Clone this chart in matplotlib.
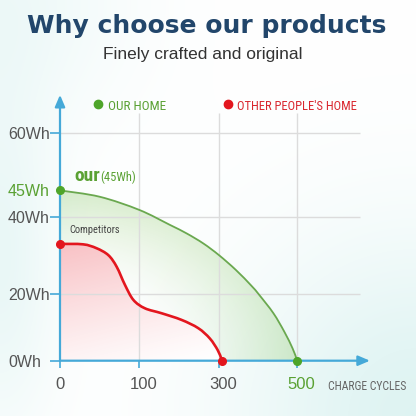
import numpy as np
import matplotlib
matplotlib.use('Agg')
import matplotlib.pyplot as plt
import matplotlib.transforms as mtransforms
from matplotlib.lines import Line2D
from matplotlib.path import Path
from matplotlib.patches import PathPatch

# ---- data ----
cycle_ticks = [0, 100, 300, 500]
cycle_labels = ['0', '100', '300', '500']
wh_ticks = [0, 20, 40, 45, 60]
wh_labels = ['0Wh', '20Wh', '40Wh', '45Wh', '60Wh']

our_cycles = [0, 50, 100, 177, 219, 261, 300, 343, 382, 403, 439, 467, 488, 498, 500]
our_wh = [45, 43.8, 41.3, 37.9, 35.7, 33.1, 30.1, 26.3, 22.3, 19.8, 14.3, 8.7, 3.7, 0.6, 0]

comp_cycles = [0, 29, 46, 61, 71.5, 82, 92.6, 114, 156, 206, 248, 277, 296.7, 306, 307.7]
comp_wh = [33.0, 32.9, 31.9, 30.1, 27.1, 22.4, 18.3, 15.8, 14.3, 12.3, 9.8, 6.7, 3.2, 0.6, 0]

# ---- colours ----
BLUE = '#45a9d8'
GREEN = '#5aa133'
GREEN_LINE = '#6aa84f'
RED = '#e3161e'
GREY = '#555555'
NAVY = '#22466b'
NARROW = ['Roboto Condensed', 'Liberation Sans Narrow', 'DejaVu Sans Condensed', 'Liberation Sans']


# piecewise linear scales (the picture's axes are not evenly spaced)
def piecewise(kv, kp):
    kv = np.asarray(kv, float)
    kp = np.asarray(kp, float)
    s0 = (kp[1] - kp[0]) / (kv[1] - kv[0])
    s1 = (kp[-1] - kp[-2]) / (kv[-1] - kv[-2])

    def f(v):
        v = np.asarray(v, float)
        out = np.interp(v, kv, kp)
        out = np.where(v < kv[0], kp[0] + (v - kv[0]) * s0, out)
        out = np.where(v > kv[-1], kp[-1] + (v - kv[-1]) * s1, out)
        return out
    return f


x_pos = [0, 79.3, 159, 237.3]
y_pos = [0, 66.4, 144, 170.4, 227.7]
x_fwd, x_inv = piecewise(cycle_ticks, x_pos), piecewise(x_pos, cycle_ticks)
y_fwd, y_inv = piecewise(wh_ticks, y_pos), piecewise(y_pos, wh_ticks)


def smooth_path(xs, ys, close=False):
    # catmull-rom through the read points, as bezier segments (in scale space)
    p = np.column_stack([x_fwd(xs), y_fwd(ys)])
    q = np.vstack([p[0], p, p[-1]])
    verts = [p[0]]
    codes = [Path.MOVETO]
    for i in range(1, len(q) - 2):
        c1 = q[i] + (q[i + 1] - q[i - 1]) / 6
        c2 = q[i + 1] - (q[i + 2] - q[i]) / 6
        verts += [c1, c2, q[i + 1]]
        codes += [Path.CURVE4] * 3
    if close:
        verts += [[0, 0], p[0]]
        codes += [Path.LINETO, Path.CLOSEPOLY]
    v = np.array(verts)
    v = np.column_stack([x_inv(v[:, 0]), y_inv(v[:, 1])])
    return Path(v, codes)


W_PX = 416
AX_L, AX_B, AX_W, AX_H = 60, 360.7, 315.6, 270.7

fig = plt.figure(figsize=(4.16, 4.16), dpi=100)
fig.patch.set_facecolor('white')

# soft background tint
bg = fig.add_axes([0, 0, 1, 1], zorder=-5)
bg.axis('off')
gx, gy = np.meshgrid(np.arange(W_PX), np.arange(W_PX))
t1 = np.exp(-((W_PX - gx) ** 2 + (W_PX - gy) ** 2) / (2 * 130.0 ** 2))
t2 = np.exp(-gx ** 2 / (2 * 40.0 ** 2)) * np.exp(-(gy - 260) ** 2 / (2 * 120.0 ** 2))
t3 = np.exp(-(gx ** 2 + gy ** 2) / (2 * 90.0 ** 2))
t = np.clip(0.9 * t1 + 0.6 * t2 + 0.45 * t3, 0, 1)[..., None]
tint = np.array([0.86, 0.95, 0.945])
bg.imshow((1 - t) * 1.0 + t * tint, extent=(0, 1, 0, 1), aspect='auto')
bg.set_xlim(0, 1)
bg.set_ylim(0, 1)

ax = fig.add_axes([AX_L / W_PX, 1 - AX_B / W_PX, AX_W / W_PX, AX_H / W_PX])
ax.set_facecolor('none')
ax.set_xscale('function', functions=(x_fwd, x_inv))
ax.set_yscale('function', functions=(y_fwd, y_inv))

# gradient fills
nx, ny = 316, 271
ww, hh = np.meshgrid(np.linspace(0, AX_W, nx), np.linspace(AX_H, 0, ny))

rho = np.sqrt((ww / 237.3) ** 2 + (hh / 170.4) ** 2)
ga = 0.34 * np.clip((rho - 0.42) / 0.58, 0, 1) ** 1.5
g_rgba = np.zeros((ny, nx, 4))
g_rgba[..., :3] = [0.56, 0.79, 0.42]
g_rgba[..., 3] = ga

ra = 0.36 * np.clip(0.75 * hh / 115 + 0.25 * (1 - ww / 160), 0, 1) ** 1.2
r_rgba = np.zeros((ny, nx, 4))
r_rgba[..., :3] = [0.93, 0.33, 0.37]
r_rgba[..., 3] = ra

g_poly = PathPatch(smooth_path(our_cycles, our_wh, close=True), facecolor='none',
                   edgecolor='none', transform=ax.transData, zorder=1)
ax.add_patch(g_poly)
g_im = ax.imshow(g_rgba, extent=(0, 1, 0, 1), transform=ax.transAxes, aspect='auto',
                 zorder=1.1, interpolation='bilinear')
g_im.set_clip_path(g_poly)

r_poly = PathPatch(smooth_path(comp_cycles, comp_wh, close=True), facecolor='white',
                   edgecolor='none', transform=ax.transData, zorder=1.5)
ax.add_patch(r_poly)
r_im = ax.imshow(r_rgba, extent=(0, 1, 0, 1), transform=ax.transAxes, aspect='auto',
                 zorder=1.6, interpolation='bilinear')
r_im.set_clip_path(r_poly)

# grid
ax.hlines([20, 40, 60], 0, 660, color='#dcdcdc', lw=1.0, zorder=2)
ax.vlines([100, 300, 500], 0, 65.2, color='#dcdcdc', lw=1.0, zorder=2)

# curves and end dots
ax.add_patch(PathPatch(smooth_path(our_cycles, our_wh), facecolor='none', edgecolor=GREEN_LINE,
                       lw=1.3, transform=ax.transData, zorder=3))
ax.add_patch(PathPatch(smooth_path(comp_cycles, comp_wh), facecolor='none', edgecolor=RED,
                       lw=1.9, transform=ax.transData, zorder=3))
ax.plot([our_cycles[0], our_cycles[-1]], [our_wh[0], our_wh[-1]], 'o', color='#4ea52a',
        ms=5.5, zorder=5, clip_on=False)
ax.plot([comp_cycles[0], comp_cycles[-1]], [comp_wh[0], comp_wh[-1]], 'o', color=RED,
        ms=5.5, zorder=5, clip_on=False)

ax.set_xlim(0, 700)
ax.set_ylim(0, 71.3)

# axes with arrows
for s in ax.spines.values():
    s.set_visible(False)
ax.annotate('', xy=(0, 0.982), xytext=(0, 0), xycoords='axes fraction',
            arrowprops=dict(arrowstyle='-|>,head_length=0.7,head_width=0.3', color=BLUE,
                            lw=1.6, shrinkA=0, shrinkB=0), zorder=4)
ax.annotate('', xy=(0.982, 0), xytext=(0, 0), xycoords='axes fraction',
            arrowprops=dict(arrowstyle='-|>,head_length=0.7,head_width=0.3', color=BLUE,
                            lw=1.6, shrinkA=0, shrinkB=0), zorder=4)

ax.set_xticks(cycle_ticks)
ax.set_xticklabels(cycle_labels)
ax.set_yticks(wh_ticks)
ax.set_yticklabels(wh_labels)
ax.xaxis.set_minor_locator(matplotlib.ticker.NullLocator())
ax.yaxis.set_minor_locator(matplotlib.ticker.NullLocator())
ax.tick_params(axis='x', length=5, width=1.2, color=BLUE, pad=7, labelsize=12,
               labelcolor=GREY)
ax.tick_params(axis='y', length=7.5, width=1.2, color=BLUE, pad=30, labelsize=11.5,
               labelcolor=GREY)
for lab in ax.get_xticklabels() + ax.get_yticklabels():
    lab.set_family('Liberation Sans')
shift = mtransforms.ScaledTranslation(4 / 100, 0, fig.dpi_scale_trans)
for lab in ax.get_xticklabels()[1:]:
    lab.set_transform(lab.get_transform() + shift)
for lab in ax.get_yticklabels():
    lab.set_horizontalalignment('left')
ax.get_xticklabels()[3].set_color(GREEN)
ax.get_yticklabels()[3].set_color(GREEN)
ax.yaxis.get_major_ticks()[3].tick1line.set_visible(False)

# titles
fig.text(207 / W_PX, 1 - 33 / W_PX, 'Why choose our products', ha='center', va='baseline',
         fontsize=18, fontweight='bold', color=NAVY, family='DejaVu Sans')
fig.text(203 / W_PX, 1 - 59.3 / W_PX, 'Finely crafted and original', ha='center',
         va='baseline', fontsize=12.5, color='#333333', family='Liberation Sans')

# legend-like labels
fig.add_artist(Line2D([98 / W_PX], [1 - 104.3 / W_PX], transform=fig.transFigure,
                      marker='o', ms=6, color='#4ea52a', ls=''))
fig.text(108 / W_PX, 1 - 109.5 / W_PX, 'OUR HOME', ha='left', va='baseline',
         fontsize=9.5, color=GREEN, family=NARROW)
fig.add_artist(Line2D([227.5 / W_PX], [1 - 104.3 / W_PX], transform=fig.transFigure,
                      marker='o', ms=6, color=RED, ls=''))
fig.text(237 / W_PX, 1 - 109.5 / W_PX, "OTHER PEOPLE'S HOME", ha='left', va='baseline',
         fontsize=9, color='#d9262e', family=NARROW)

fig.text(74 / W_PX, 1 - 181.5 / W_PX, 'our', ha='left', va='baseline', fontsize=14,
         fontweight='bold', color=GREEN, family=NARROW)
fig.text(100 / W_PX, 1 - 181.5 / W_PX, '(45Wh)', ha='left', va='baseline', fontsize=9,
         color=GREEN, family=NARROW)
fig.text(69 / W_PX, 1 - 232.7 / W_PX, 'Competitors', ha='left', va='baseline', fontsize=7.5,
         color='#444444', family=NARROW)
fig.text(328 / W_PX, 1 - 390 / W_PX, 'CHARGE CYCLES', ha='left', va='baseline', fontsize=8.4,
         color='#666666', family=NARROW)

fig.savefig('out.png', dpi=100)
